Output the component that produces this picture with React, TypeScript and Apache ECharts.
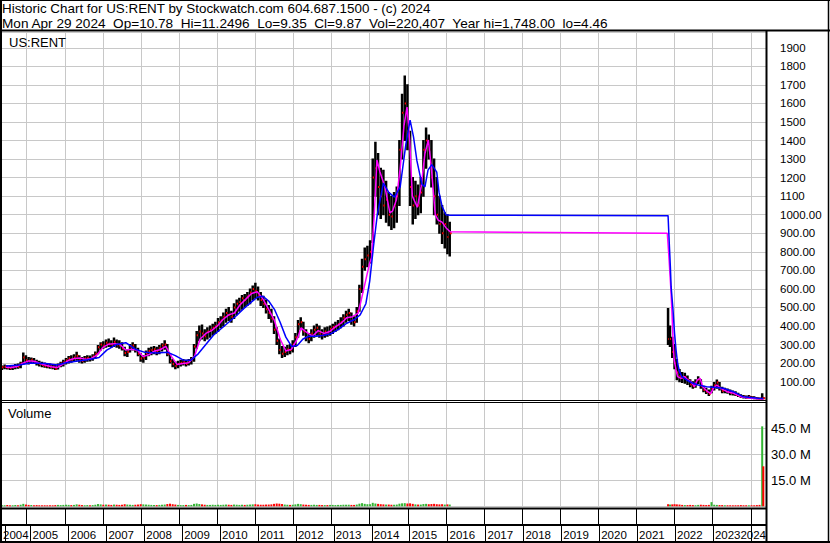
import React, { useEffect, useRef } from 'react';
import * as echarts from 'echarts';

const HEADER_LINE_1 = 'Historic Chart for US:RENT by Stockwatch.com 604.687.1500 - (c) 2024';
const HEADER_LINE_2 = 'Mon Apr 29 2024  Op=10.78  Hi=11.2496  Lo=9.35  Cl=9.87  Vol=220,407  Year hi=1,748.00  lo=4.46';
const SYMBOL = 'US:RENT';
const VOLUME_TITLE = 'Volume';

const X_MIN = 2004.325;
const X_MAX = 2024.4;
const FIRST_YEAR = 2004;
const PRICE_MAX = 1985;
const PRICE_STEP = 100;
const VOL_MAX = 60;
const VOL_STEP = 15;

// [year, low, high, close, volume (millions)]
const priceBars: number[][] = [
  [2004.35, 165, 185, 178, 0.6], [2004.42, 170, 190, 180, 0.5], [2004.49, 168, 186, 175, 0.7], [2004.56, 165, 182, 172, 0.5],
  [2004.63, 166, 185, 178, 0.6], [2004.70, 170, 192, 185, 0.8], [2004.77, 172, 195, 180, 0.6], [2004.84, 175, 205, 198, 0.9],
  [2004.91, 195, 255, 230, 1.4], [2004.98, 200, 240, 215, 1.0], [2005.05, 195, 230, 210, 0.8], [2005.12, 200, 228, 218, 0.7],
  [2005.19, 198, 225, 205, 0.6], [2005.26, 190, 215, 200, 0.7], [2005.33, 185, 210, 195, 0.6], [2005.40, 180, 205, 190, 0.5],
  [2005.47, 178, 200, 185, 0.6], [2005.54, 175, 198, 182, 0.5], [2005.61, 172, 195, 180, 0.6], [2005.68, 170, 192, 178, 0.5],
  [2005.75, 165, 188, 170, 0.7], [2005.82, 168, 195, 188, 0.8], [2005.89, 180, 205, 198, 0.7], [2005.96, 185, 215, 205, 0.8],
  [2006.03, 195, 225, 215, 0.9], [2006.10, 200, 235, 225, 0.8], [2006.17, 205, 240, 220, 0.7], [2006.24, 210, 245, 230, 0.8],
  [2006.31, 215, 258, 240, 1.1], [2006.38, 205, 240, 215, 0.9], [2006.45, 200, 230, 212, 0.7], [2006.52, 205, 235, 225, 0.6],
  [2006.59, 210, 240, 228, 0.7], [2006.66, 212, 238, 222, 0.6], [2006.73, 215, 245, 235, 0.7], [2006.80, 225, 260, 250, 0.9],
  [2006.87, 250, 295, 285, 1.3], [2006.94, 270, 310, 300, 1.1], [2007.01, 280, 315, 295, 0.9], [2007.08, 285, 325, 310, 1.0],
  [2007.15, 290, 330, 305, 0.9], [2007.22, 285, 320, 300, 0.8], [2007.29, 290, 335, 315, 1.0], [2007.36, 285, 325, 300, 0.9],
  [2007.43, 280, 320, 295, 0.8], [2007.50, 270, 310, 280, 0.9], [2007.57, 240, 285, 255, 1.2], [2007.64, 235, 270, 260, 1.0],
  [2007.71, 260, 300, 290, 0.9], [2007.78, 270, 310, 295, 0.8], [2007.85, 260, 300, 270, 0.9], [2007.92, 240, 280, 250, 1.0],
  [2007.99, 210, 250, 225, 1.2], [2008.06, 205, 240, 230, 1.1], [2008.13, 220, 265, 255, 1.0], [2008.20, 240, 280, 265, 0.9],
  [2008.27, 245, 285, 270, 0.8], [2008.34, 250, 290, 275, 0.8], [2008.41, 245, 285, 265, 0.7], [2008.48, 250, 295, 280, 0.8],
  [2008.55, 265, 305, 295, 0.9], [2008.62, 275, 320, 300, 1.0], [2008.69, 240, 300, 250, 1.3], [2008.76, 200, 250, 210, 1.5],
  [2008.83, 180, 220, 195, 1.2], [2008.90, 170, 205, 185, 1.0], [2008.97, 175, 210, 195, 0.8], [2009.04, 185, 215, 200, 0.7],
  [2009.11, 190, 220, 205, 0.7], [2009.18, 185, 215, 195, 0.8], [2009.25, 190, 220, 210, 0.7], [2009.32, 195, 230, 220, 0.8],
  [2009.39, 210, 300, 290, 1.4], [2009.46, 280, 370, 350, 1.6], [2009.53, 320, 400, 370, 1.3], [2009.60, 330, 405, 360, 1.1],
  [2009.67, 320, 380, 345, 0.9], [2009.74, 330, 390, 370, 0.8], [2009.81, 340, 400, 380, 0.8], [2009.88, 350, 410, 390, 0.9],
  [2009.95, 360, 420, 400, 0.8], [2010.02, 370, 440, 420, 0.9], [2010.09, 390, 450, 430, 0.8], [2010.16, 400, 470, 450, 0.9],
  [2010.23, 420, 490, 470, 1.0], [2010.30, 430, 500, 460, 0.9], [2010.37, 420, 480, 450, 0.8], [2010.44, 440, 520, 500, 1.0],
  [2010.51, 460, 540, 520, 0.9], [2010.58, 480, 550, 530, 0.8], [2010.65, 490, 565, 550, 0.9], [2010.72, 500, 570, 540, 0.8],
  [2010.79, 510, 580, 560, 0.9], [2010.86, 520, 600, 580, 1.0], [2010.93, 540, 615, 600, 1.1], [2011.00, 550, 630, 590, 1.2],
  [2011.07, 540, 610, 560, 1.0], [2011.14, 510, 580, 540, 0.9], [2011.21, 500, 560, 520, 0.9], [2011.28, 470, 540, 490, 1.0],
  [2011.35, 440, 510, 470, 1.0], [2011.42, 420, 490, 440, 1.1], [2011.49, 360, 450, 380, 1.4], [2011.56, 300, 390, 320, 1.6],
  [2011.63, 250, 330, 270, 1.5], [2011.70, 230, 290, 250, 1.3], [2011.77, 235, 285, 260, 1.0], [2011.84, 245, 295, 275, 0.9],
  [2011.91, 250, 300, 270, 0.8], [2011.98, 260, 320, 300, 0.9], [2012.05, 290, 360, 340, 1.1], [2012.12, 340, 430, 410, 1.4],
  [2012.19, 380, 445, 420, 1.2], [2012.26, 350, 420, 370, 1.0], [2012.33, 320, 380, 340, 0.9], [2012.40, 310, 360, 330, 0.8],
  [2012.47, 320, 380, 360, 0.8], [2012.54, 340, 400, 380, 0.9], [2012.61, 350, 410, 390, 0.8], [2012.68, 340, 400, 360, 0.8],
  [2012.75, 330, 380, 350, 0.7], [2012.82, 340, 390, 370, 0.7], [2012.89, 345, 395, 360, 0.7], [2012.96, 350, 400, 385, 0.8],
  [2013.03, 360, 410, 395, 0.8], [2013.10, 370, 420, 400, 0.7], [2013.17, 380, 430, 410, 0.8], [2013.24, 390, 445, 420, 0.8],
  [2013.31, 400, 460, 445, 0.9], [2013.38, 420, 480, 460, 0.9], [2013.45, 430, 490, 470, 0.9], [2013.52, 410, 470, 430, 0.8],
  [2013.59, 400, 450, 420, 0.8], [2013.66, 420, 500, 480, 1.0], [2013.73, 480, 620, 600, 1.5], [2013.80, 580, 760, 720, 1.8],
  [2013.87, 700, 820, 760, 1.4], [2013.94, 720, 830, 780, 1.2], [2014.01, 740, 860, 800, 1.2], [2014.08, 850, 1300, 1200, 2.0],
  [2014.15, 1100, 1390, 1250, 1.6], [2014.22, 1000, 1330, 1150, 1.4], [2014.29, 980, 1250, 1100, 1.2], [2014.36, 1000, 1240, 1050, 1.1],
  [2014.43, 960, 1180, 1080, 1.0], [2014.50, 940, 1120, 1000, 1.0], [2014.57, 920, 1100, 990, 0.9], [2014.64, 930, 1120, 1050, 0.9],
  [2014.71, 960, 1150, 1100, 1.0], [2014.78, 1050, 1400, 1350, 1.5], [2014.85, 1300, 1650, 1550, 1.7], [2014.92, 1400, 1748, 1600, 1.8],
  [2014.99, 1350, 1700, 1450, 1.6], [2015.06, 1050, 1450, 1150, 1.7], [2015.13, 950, 1200, 1050, 1.4], [2015.20, 980, 1180, 1100, 1.1],
  [2015.27, 1000, 1160, 1050, 1.0], [2015.34, 1010, 1200, 1120, 1.0], [2015.41, 1100, 1400, 1350, 1.3], [2015.48, 1250, 1467, 1400, 1.4],
  [2015.55, 1300, 1430, 1350, 1.2], [2015.62, 1150, 1400, 1200, 1.3], [2015.69, 1000, 1300, 1100, 1.4], [2015.76, 950, 1200, 1000, 1.2],
  [2015.83, 900, 1100, 950, 1.1], [2015.90, 845, 1050, 900, 1.2], [2015.97, 820, 1010, 950, 1.0], [2016.04, 790, 1000, 880, 1.1],
  [2016.10, 777, 960, 900, 1.0],
  [2021.83, 300, 495, 330, 1.2], [2021.88, 290, 400, 330, 1.0], [2021.94, 230, 340, 260, 1.1], [2022.00, 170, 300, 200, 1.2],
  [2022.06, 110, 220, 150, 1.1], [2022.13, 100, 165, 130, 1.0], [2022.20, 95, 150, 120, 0.8], [2022.27, 92, 145, 125, 0.7],
  [2022.34, 85, 130, 110, 0.7], [2022.41, 72, 110, 85, 0.8], [2022.48, 65, 100, 75, 0.7], [2022.55, 70, 110, 95, 0.6],
  [2022.62, 90, 127, 110, 0.8], [2022.69, 65, 110, 75, 0.9], [2022.76, 45, 75, 55, 0.8], [2022.83, 36, 65, 45, 0.7],
  [2022.90, 25, 55, 35, 0.8], [2022.97, 40, 75, 60, 2.4], [2023.04, 55, 95, 80, 0.9], [2023.11, 65, 109, 95, 0.8],
  [2023.18, 55, 95, 65, 0.7], [2023.25, 40, 70, 50, 0.7], [2023.32, 40, 65, 55, 0.6], [2023.39, 38, 60, 45, 0.6],
  [2023.46, 30, 55, 40, 0.6], [2023.53, 28, 50, 38, 0.5], [2023.60, 25, 45, 30, 0.6], [2023.67, 20, 38, 25, 0.6],
  [2023.74, 15, 30, 20, 0.7], [2023.81, 12, 25, 18, 0.6], [2023.88, 10, 22, 15, 0.6], [2023.95, 12, 25, 18, 0.5],
  [2024.02, 10, 20, 14, 0.6], [2024.09, 8, 18, 12, 0.6], [2024.16, 7, 15, 10, 0.7], [2024.23, 4.46, 12, 8, 0.8],
  [2024.30, 5, 35, 12, 46], [2024.33, 9.35, 11.25, 9.87, 23],
];

// short moving average (magenta)
const shortMA: number[][] = [
  [2004.45, 178], [2004.6, 176], [2004.75, 182], [2004.9, 200], [2005.05, 212], [2005.2, 210], [2005.35, 198],
  [2005.5, 188], [2005.65, 180], [2005.8, 176], [2005.95, 195], [2006.1, 215], [2006.25, 225], [2006.4, 228],
  [2006.55, 220], [2006.7, 225], [2006.85, 245], [2007.0, 285], [2007.15, 302], [2007.3, 305], [2007.45, 300],
  [2007.6, 270], [2007.75, 275], [2007.9, 270], [2008.05, 235], [2008.2, 245], [2008.35, 265], [2008.5, 272],
  [2008.65, 290], [2008.8, 235], [2008.95, 192], [2009.1, 198], [2009.25, 202], [2009.4, 235], [2009.55, 330],
  [2009.7, 360], [2009.85, 375], [2010.0, 400], [2010.15, 435], [2010.3, 460], [2010.45, 470], [2010.6, 515],
  [2010.75, 545], [2010.9, 575], [2011.05, 585], [2011.2, 545], [2011.35, 490], [2011.5, 430], [2011.65, 330],
  [2011.8, 265], [2011.95, 275], [2012.1, 330], [2012.2, 390], [2012.35, 365], [2012.5, 345], [2012.65, 375],
  [2012.8, 360], [2012.95, 370], [2013.1, 395], [2013.25, 415], [2013.4, 445], [2013.55, 450], [2013.7, 470],
  [2013.8, 560], [2013.9, 650], [2014.0, 740], [2014.05, 770], [2014.12, 1000], [2014.19, 1295], [2014.27, 1230],
  [2014.4, 1150], [2014.53, 1010], [2014.6, 1020], [2014.7, 1080], [2014.8, 1250], [2014.9, 1480], [2014.98, 1580],
  [2015.05, 1400], [2015.12, 1100], [2015.25, 1040], [2015.35, 1150], [2015.45, 1330], [2015.54, 1403], [2015.62, 1250],
  [2015.72, 1000], [2015.8, 970], [2015.9, 960], [2016.0, 930], [2016.11, 908],
  [2021.81, 900], [2021.84, 810], [2021.86, 747], [2021.9, 612], [2021.93, 486], [2021.96, 325], [2021.99, 217],
  [2022.04, 163], [2022.08, 127], [2022.17, 118], [2022.26, 127], [2022.35, 109], [2022.43, 100], [2022.52, 73],
  [2022.6, 109], [2022.67, 118], [2022.74, 73], [2022.87, 46], [2022.95, 37], [2023.02, 64], [2023.11, 82],
  [2023.21, 64], [2023.38, 46], [2023.56, 37], [2023.73, 19], [2023.99, 10], [2024.3, 6], [2024.33, 7],
];

// long moving average (blue)
const longMA: number[][] = [
  [2004.45, 185], [2004.8, 190], [2005.1, 200], [2005.5, 198], [2005.8, 190], [2006.0, 200], [2006.3, 210],
  [2006.6, 218], [2006.9, 230], [2007.1, 270], [2007.35, 300], [2007.6, 310], [2007.85, 275], [2008.1, 258],
  [2008.4, 255], [2008.7, 258], [2008.9, 240], [2009.1, 217], [2009.3, 215], [2009.5, 250], [2009.7, 300],
  [2009.9, 350], [2010.1, 385], [2010.3, 420], [2010.5, 455], [2010.7, 495], [2010.9, 530], [2011.05, 555],
  [2011.2, 560], [2011.35, 535], [2011.5, 490], [2011.65, 420], [2011.8, 340], [2011.95, 290], [2012.1, 295],
  [2012.25, 330], [2012.4, 345], [2012.6, 345], [2012.8, 350], [2013.0, 360], [2013.2, 385], [2013.4, 415],
  [2013.6, 435], [2013.75, 460], [2013.9, 520], [2014.0, 640], [2014.1, 830], [2014.2, 1000], [2014.36, 1170],
  [2014.5, 1120], [2014.65, 1095], [2014.8, 1150], [2014.95, 1380], [2015.06, 1510], [2015.15, 1420], [2015.24, 1290],
  [2015.37, 1165], [2015.45, 1150], [2015.53, 1240], [2015.63, 1270], [2015.76, 1230], [2015.82, 1120], [2015.9, 1045],
  [2016.0, 1000], [2016.11, 997],
  [2021.83, 995], [2021.85, 900], [2021.87, 810], [2021.89, 720], [2021.91, 612], [2021.96, 486], [2022.0, 360],
  [2022.04, 270], [2022.08, 199], [2022.13, 154], [2022.19, 127], [2022.32, 109], [2022.45, 94], [2022.62, 82],
  [2022.84, 73], [2023.1, 69], [2023.28, 64], [2023.54, 46], [2023.8, 19], [2024.2, 10], [2024.33, 9],
];

const FONT = '"Liberation Sans", Arial, sans-serif';
const GRID_GRAY = '#c8c8c8';
const UP = '#33b533';
const DOWN = '#ff0000';

function frameLine(x1: number, y1: number, x2: number, y2: number, w: number) {
  return { type: 'line', z: 100, silent: true, shape: { x1, y1, x2, y2 }, style: { stroke: '#000', lineWidth: w } };
}

const isYear = (v: number, y: number) => Math.abs(v - y) < 1e-6;

export default function App() {
  const ref = useRef<HTMLDivElement>(null);
  useEffect(() => {
    if (!ref.current) return;
    const chart = echarts.init(ref.current, undefined, { renderer: 'svg' });

    const volumeData = priceBars.map((r, i) => {
      const prev = i > 0 ? priceBars[i - 1][3] : r[3];
      return { value: [r[0], r[4]], itemStyle: { color: r[3] >= prev ? UP : DOWN } };
    });

    const baseX = (i: number) => ({
      type: 'value',
      gridIndex: i,
      min: X_MIN,
      max: X_MAX,
      splitNumber: 21,
      position: 'bottom',
      axisLine: { show: false },
      axisTick: { show: false },
      axisLabel: { show: false },
      splitLine: { show: true, lineStyle: { color: i < 2 ? GRID_GRAY : '#000', width: 1 } },
    });

    const labelStyle = {
      show: true,
      inside: true,
      margin: 1,
      interval: 0,
      showMinLabel: true,
      showMaxLabel: true,
      hideOverlap: false,
      fontSize: 11.5,
      fontFamily: FONT,
      color: '#000',
    };

    const xAxes: any[] = [0, 1, 2, 3].map(baseX);
    // year labels, left-aligned after each year boundary
    xAxes[3].axisLabel = {
      ...labelStyle,
      align: 'left',
      alignMaxLabel: 'right',
      padding: [0, 0, 0, 2],
      formatter: (v: number) => {
        if (v < FIRST_YEAR + 1 || isYear(v, Math.floor(X_MAX))) return '';
        return String(Math.floor(v + 1e-6));
      },
    };
    // the first (partial) year's label, right-aligned before its end boundary
    xAxes.push({
      ...baseX(3),
      splitLine: { show: false },
      axisLabel: {
        ...labelStyle,
        showMinLabel: false,
        showMaxLabel: false,
        align: 'right',
        padding: [0, 2, 0, 0],
        formatter: (v: number) => (isYear(v, FIRST_YEAR + 1) ? String(FIRST_YEAR) : ''),
      },
    });

    const option: any = {
      animation: false,
      backgroundColor: '#fff',
      textStyle: { fontFamily: FONT },
      title: [
        {
          text: HEADER_LINE_1,
          left: 2,
          top: 1,
          padding: 0,
          textStyle: { fontSize: 13.4, fontWeight: 'normal', color: '#000', lineHeight: 15, fontFamily: FONT },
        },
        {
          text: HEADER_LINE_2,
          left: 2,
          top: 16,
          padding: 0,
          textStyle: { fontSize: 13.6, fontWeight: 'normal', color: '#000', lineHeight: 15, fontFamily: FONT },
        },
        {
          text: SYMBOL,
          left: 9,
          top: 35,
          padding: 0,
          textStyle: { fontSize: 13, fontWeight: 'normal', color: '#000', lineHeight: 14, fontFamily: FONT },
        },
        {
          text: VOLUME_TITLE,
          left: 8,
          top: 406,
          padding: 0,
          textStyle: { fontSize: 13, fontWeight: 'normal', color: '#000', lineHeight: 14, fontFamily: FONT },
        },
      ],
      grid: [
        { left: 1, top: 32, width: 765, height: 368.2 },
        { left: 1, top: 402, width: 765, height: 104.3 },
        { left: 1, top: 509, width: 765, height: 16 },
        { left: 1, top: 525, width: 765, height: 17 },
      ],
      xAxis: xAxes,
      yAxis: [
        {
          type: 'value',
          gridIndex: 0,
          position: 'right',
          min: 0,
          max: PRICE_MAX,
          interval: PRICE_STEP,
          axisLine: { show: false },
          axisTick: { show: false },
          splitLine: { show: true, lineStyle: { color: GRID_GRAY, width: 1 } },
          axisLabel: {
            margin: 14,
            fontSize: 11.5,
            fontFamily: FONT,
            color: '#000',
            showMaxLabel: true,
            formatter: (v: number) => {
              if (v === 0 || v % PRICE_STEP !== 0) return '';
              return v > 1000 ? String(v) : v.toFixed(2);
            },
          },
        },
        {
          type: 'value',
          gridIndex: 1,
          position: 'right',
          min: 0,
          max: VOL_MAX,
          interval: VOL_STEP,
          axisLine: { show: false },
          axisTick: { show: false },
          splitLine: { show: true, lineStyle: { color: GRID_GRAY, width: 1 } },
          axisLabel: {
            margin: 5,
            fontSize: 13,
            fontFamily: FONT,
            color: '#000',
            formatter: (v: number) => (v === 0 || v === VOL_MAX ? '' : v.toFixed(1) + ' M'),
          },
        },
        { type: 'value', gridIndex: 2, show: false },
        { type: 'value', gridIndex: 3, show: false },
      ],
      series: [
        {
          type: 'custom',
          name: 'price',
          xAxisIndex: 0,
          yAxisIndex: 0,
          clip: true,
          data: priceBars,
          encode: { x: 0, y: [1, 2, 3] },
          renderItem: (params: any, api: any) => {
            const x = api.value(0);
            const lo = api.coord([x, api.value(1)]);
            const hi = api.coord([x, api.value(2)]);
            const cl = api.coord([x, api.value(3)]);
            return {
              type: 'group',
              children: [
                {
                  type: 'line',
                  shape: { x1: lo[0], y1: lo[1] + 0.5, x2: hi[0], y2: hi[1] - 0.5 },
                  style: { stroke: '#000', lineWidth: 2.5 },
                },
                {
                  type: 'rect',
                  shape: { x: cl[0], y: cl[1] - 1, width: 2, height: 2 },
                  style: { fill: DOWN },
                },
              ],
            };
          },
          z: 2,
        },
        {
          type: 'line',
          name: 'short MA',
          xAxisIndex: 0,
          yAxisIndex: 0,
          data: shortMA,
          symbol: 'none',
          lineStyle: { color: '#ff00ff', width: 1.5 },
          z: 3,
        },
        {
          type: 'line',
          name: 'long MA',
          xAxisIndex: 0,
          yAxisIndex: 0,
          data: longMA,
          symbol: 'none',
          lineStyle: { color: '#0000ff', width: 1.5 },
          z: 4,
        },
        {
          type: 'bar',
          name: 'volume',
          xAxisIndex: 1,
          yAxisIndex: 1,
          data: volumeData,
          barWidth: 2,
          barMinHeight: 1,
        },
      ],
      graphic: [
        frameLine(0, 0.5, 830, 0.5, 1),
        frameLine(1, 0, 1, 543, 2),
        frameLine(828.5, 0, 828.5, 543, 1.5),
        frameLine(0, 542, 830, 542, 2),
        frameLine(0, 30.5, 830, 30.5, 2),
        frameLine(766.5, 31, 766.5, 543, 2),
        frameLine(0, 400.5, 766, 400.5, 1),
        frameLine(0, 402.5, 766, 402.5, 1),
        frameLine(0, 508.5, 766, 508.5, 2),
        frameLine(0, 525, 766, 525, 2),
      ],
    };

    chart.setOption(option);
    return () => chart.dispose();
  }, []);

  return <div ref={ref} style={{ position: 'absolute', left: 0, top: 0, width: 830, height: 543 }} />;
}
